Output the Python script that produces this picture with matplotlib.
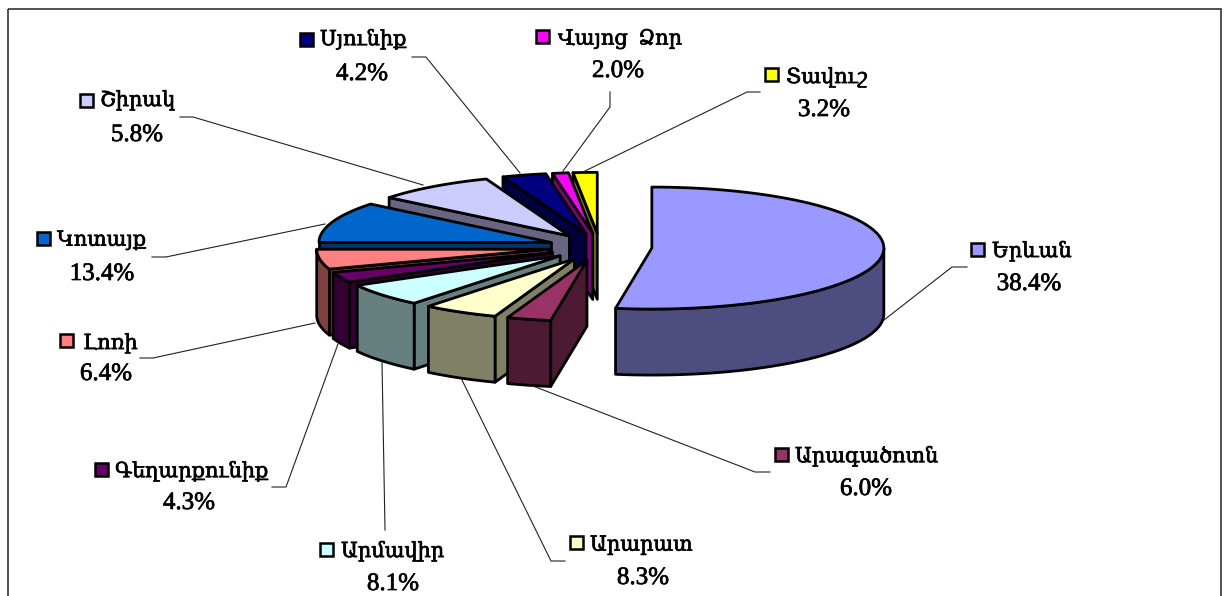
import numpy as np
import matplotlib
matplotlib.use("Agg")
import matplotlib.pyplot as plt
import matplotlib.patheffects as pe
from matplotlib.patches import Rectangle

# Region names in drawing order, clockwise from 12 o'clock
regions = ['Երևան', 'Արագածոտն', 'Արարատ', 'Արմավիր', 'Գեղարքունիք', 'Լոռի',
           'Կոտայք', 'Շիրակ', 'Սյունիք', 'Վայոց  Ձոր', 'Տավուշ']

# Percentages as printed on the labels
printed_pct = [38.4, 6.0, 8.3, 8.1, 4.3, 6.4, 13.4, 5.8, 4.2, 2.0, 3.2]

# The drawn slices don't follow the printed numbers, so their angles are read off the picture
slice_degrees = [189, 11, 19, 22, 10, 19, 39, 30, 11, 4, 6]

top_colors = ['#9999FF', '#993366', '#FFFFCC', '#CCFFFF', '#660066', '#FF8080',
              '#0066CC', '#CCCCFF', '#000080', '#FF00FF', '#FFFF00']

# Pie geometry in pixels
CX, CY = 600, 247
RX, RY = 232, 61
DEPTH = 66
EXPLODE = 52

# Label layout: key centre, name start, percent centre
key_xy = [(977, 249), (781, 454), (576, 542), (326, 549), (101, 469), (66, 340),
          (43, 238), (86, 100), (306, 39), (542, 36), (771, 74)]
name_xy = [(992, 252), (795, 457), (590, 546), (341, 552), (115, 472), (83, 344),
           (57, 241), (100, 101), (320, 40), (558, 39), (786, 78)]
pct_xy = [(1029, 284), (866, 489), (643, 578), (393, 584), (189, 503), (106, 374),
          (102, 274), (137, 135), (362, 74), (618, 71), (824, 110)]

leaders = [[(967, 267), (952, 267), (884, 320)],
           [(770, 472), (755, 472), (533, 386)],
           [(565, 561), (551, 561), (462, 380)],
           [(385, 530), (382, 362)],
           [(272, 487), (286, 487), (338, 344)],
           [(140, 358), (153, 358), (315, 323)],
           [(152, 257), (166, 257), (325, 224)],
           [(180, 117), (193, 117), (423, 185)],
           [(412, 57), (426, 57), (520, 173)],
           [(610, 92), (610, 107), (563, 171)],
           [(760, 92), (747, 92), (585, 171)]]

fig = plt.figure(figsize=(12.26, 5.96), dpi=100)
ax = fig.add_axes([0, 0, 1, 1])
ax.set_xlim(0, 1226)
ax.set_ylim(596, 0)
ax.axis('off')

ax.add_patch(Rectangle((8, 9), 1213, 620, fill=False, edgecolor='#333333', linewidth=1.2))


def rim(cx, cy, deg):
    t = np.radians(deg)
    return cx + RX * np.sin(t), cy - RY * np.cos(t)


def darker(color):
    return tuple(c / 2 for c in matplotlib.colors.to_rgb(color))


def draw_slice(start, end, color):
    mid = np.radians((start + end) / 2)
    cx = CX + EXPLODE * np.sin(mid)
    cy = CY - EXPLODE * (RY / RX) * np.cos(mid)
    side = darker(color)
    style = dict(edgecolor='black', linewidth=2.0, joinstyle='round')

    # cut faces that look towards the viewer
    for deg, show in ((start, np.sin(np.radians(start)) < -1e-6), (end, np.sin(np.radians(end)) > 1e-6)):
        if show:
            x, y = rim(cx, cy, deg)
            ax.fill([cx, x, x, cx], [cy, y, y + DEPTH, cy + DEPTH], facecolor=side, **style)

    # outer wall, front half of the ellipse only
    lo, hi = max(start, 90), min(end, 270)
    if hi > lo:
        a = np.linspace(lo, hi, 60)
        x, y = rim(cx, cy, a)
        ax.fill(np.r_[x, x[::-1]], np.r_[y, y[::-1] + DEPTH], facecolor=side, **style)

    # top
    a = np.linspace(start, end, 120)
    x, y = rim(cx, cy, a)
    ax.fill(np.r_[cx, x], np.r_[cy, y], facecolor=color, **style)


edges = np.r_[0, np.cumsum(slice_degrees)]
# paint from the back of the pie to the front
order = sorted(range(len(regions)), key=lambda i: -np.cos(np.radians((edges[i] + edges[i + 1]) / 2)))
for i in order:
    draw_slice(edges[i], edges[i + 1], top_colors[i])

for line in leaders:
    ax.plot([p[0] for p in line], [p[1] for p in line], color='#222222', linewidth=0.8, zorder=1)

fonts = ['Liberation Serif', 'DejaVu Serif']
heavy = [pe.withStroke(linewidth=0.5, foreground='black')]
for i, name in enumerate(regions):
    ax.add_patch(Rectangle((key_xy[i][0] - 6.5, key_xy[i][1] - 6.5), 13, 13, facecolor=top_colors[i],
                           edgecolor='black', linewidth=1.8))
    ax.text(name_xy[i][0], name_xy[i][1], name, family=fonts, fontsize=15, ha='left', va='center',
            path_effects=heavy)
    ax.text(pct_xy[i][0], pct_xy[i][1], '%.1f%%' % printed_pct[i], family=fonts, fontsize=18,
            ha='center', va='center', path_effects=heavy)

fig.savefig('out.png', dpi=100)
